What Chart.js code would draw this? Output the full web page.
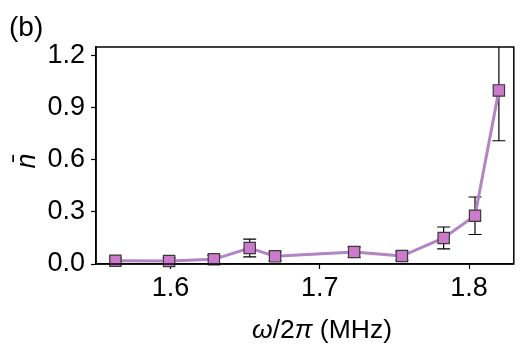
<!DOCTYPE html>
<html>
<head>
<meta charset="utf-8">
<script src="https://cdn.jsdelivr.net/npm/chart.js@4/dist/chart.umd.min.js"></script>
<style>
  html, body { margin: 0; padding: 0; background: #fff; }
  canvas { display: block; }
</style>
</head>
<body>
<canvas id="myChart" width="523" height="349"></canvas>
<script>
// drive frequency (MHz), mean phonon number and its error
const freq = [1.563, 1.599, 1.629, 1.653, 1.670, 1.723, 1.755, 1.783, 1.804, 1.820];
const nbar = [0.019, 0.017, 0.027, 0.092, 0.044, 0.069, 0.046, 0.150, 0.278, 1.0];
const nbarErr = [0.017, 0.018, 0.023, 0.051, 0.024, 0.030, 0.025, 0.063, 0.108, 0.29];
const yTicks = [0.0, 0.3, 0.6, 0.9, 1.2];
const xTicks = [1.6, 1.7, 1.8];

const FONT = "'Liberation Sans', Arial, sans-serif";

// vertical error bars with caps, clipped to the plot box
const errorBars = {
  id: 'errorBars',
  beforeDatasetsDraw(chart) {
    const { ctx, chartArea, scales } = chart;
    ctx.save();
    ctx.beginPath();
    ctx.rect(chartArea.left, chartArea.top, chartArea.right - chartArea.left, chartArea.bottom - chartArea.top);
    ctx.clip();
    ctx.strokeStyle = '#000';
    ctx.lineWidth = 1.2;
    freq.forEach((f, i) => {
      const x = scales.x.getPixelForValue(f);
      const yHi = scales.y.getPixelForValue(nbar[i] + nbarErr[i]);
      const yLo = scales.y.getPixelForValue(nbar[i] - nbarErr[i]);
      ctx.beginPath();
      ctx.moveTo(x, yHi); ctx.lineTo(x, yLo);
      ctx.moveTo(x - 6.5, yHi); ctx.lineTo(x + 6.5, yHi);
      ctx.moveTo(x - 6.5, yLo); ctx.lineTo(x + 6.5, yLo);
      ctx.stroke();
    });
    ctx.restore();
  }
};

// draws a run of [text, italic] pieces centred on cx
function drawPieces(ctx, pieces, cx, y, size) {
  const fonts = pieces.map(p => (p[1] ? 'italic ' : '') + size + 'px ' + FONT);
  const widths = pieces.map((p, i) => { ctx.font = fonts[i]; return ctx.measureText(p[0]).width; });
  let x = cx - widths.reduce((a, b) => a + b, 0) / 2;
  pieces.forEach((p, i) => {
    ctx.font = fonts[i];
    ctx.fillText(p[0], x, y);
    x += widths[i];
  });
}

// box round the plot, axis titles and the panel letter
const frame = {
  id: 'frame',
  afterDraw(chart) {
    const { ctx, chartArea } = chart;
    ctx.save();
    ctx.strokeStyle = '#000';
    ctx.lineWidth = 1.5;
    ctx.strokeRect(chartArea.left, chartArea.top, chartArea.right - chartArea.left, chartArea.bottom - chartArea.top);
    ctx.fillStyle = '#000';
    ctx.textBaseline = 'alphabetic';
    ctx.textAlign = 'left';

    ctx.font = '28px ' + FONT;
    ctx.fillText('(b)', 9, 36);

    drawPieces(ctx, [['ω', true], ['/', false], ['2', false], ['π', true], [' (MHz)', false]], 322, 338, 26.5);

    ctx.translate(35, 161);
    ctx.rotate(-Math.PI / 2);
    drawPieces(ctx, [['n̄', true]], 0, 0, 27);
    ctx.restore();
  }
};

const myChart = new Chart(document.getElementById('myChart').getContext('2d'), {
  type: 'line',
  data: {
    datasets: [{
      data: freq.map((f, i) => ({ x: f, y: nbar[i] })),
      borderColor: '#b384c4',
      borderWidth: 3,
      pointStyle: 'rect',
      pointRadius: 8,
      pointBackgroundColor: '#cc7acc',
      pointBorderColor: '#3a3a3a',
      pointBorderWidth: 1.2,
      tension: 0,
      clip: false
    }]
  },
  options: {
    responsive: false,
    animation: false,
    layout: { padding: { left: 0, top: 47, right: 5, bottom: 0 } },
    plugins: { legend: { display: false }, tooltip: { enabled: false } },
    scales: {
      x: {
        type: 'linear',
        min: 1.55,
        max: 1.83,
        afterBuildTicks: s => { s.ticks = xTicks.map(v => ({ value: v })); },
        afterFit: s => { s.height = 85; },
        ticks: {
          color: '#000',
          font: { family: FONT, size: 27 },
          padding: 3,
          maxRotation: 0,
          callback: v => v.toFixed(1)
        },
        grid: { drawOnChartArea: false, drawTicks: true, tickLength: 5, color: '#000', tickWidth: 1.2 },
        border: { color: '#000', width: 1.5 }
      },
      y: {
        min: 0,
        max: 1.25,
        afterBuildTicks: s => { s.ticks = yTicks.map(v => ({ value: v })); },
        afterFit: s => { s.width = 96; },
        ticks: {
          color: '#000',
          font: { family: FONT, size: 27 },
          padding: 6,
          callback: v => v.toFixed(1)
        },
        grid: { drawOnChartArea: false, drawTicks: true, tickLength: 5, color: '#000', tickWidth: 1.2 },
        border: { color: '#000', width: 1.5 }
      }
    }
  },
  plugins: [errorBars, frame]
});
</script>
</body>
</html>
